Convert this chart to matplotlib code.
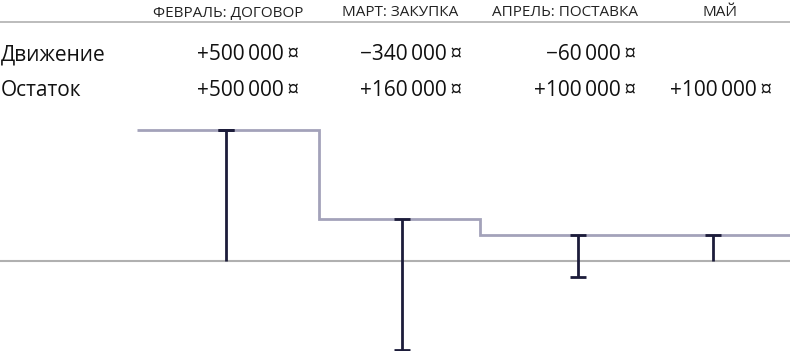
import matplotlib.pyplot as plt

# data
months = ["ФЕВРАЛЬ: ДОГОВОР", "МАРТ: ЗАКУПКА", "АПРЕЛЬ: ПОСТАВКА", "МАЙ"]
movement = [500000, -340000, -60000, None]
balance = [500000, 160000, 100000, 100000]
row_labels = ["Движение", "Остаток"]

# layout (pixel positions on a 790 px wide canvas)
mark_x = [226, 402, 578, 713]
step_edges = [137, 319, 480, 646, 790]
header_x = [228, 400, 565, 720]
value_right = [299, 462, 636, 772]

FONT = ["Open Sans", "DejaVu Sans"]
STEP_COLOR = "#a3a2ba"
MARK_COLOR = "#1c1c3a"
GRID_COLOR = "#b0b0b0"


def fmt(v):
    sign = "+" if v >= 0 else "\u2212"
    s = f"{abs(v):,}".replace(",", "\u2009")
    return f"{sign}{s}\u2009¤"


fig = plt.figure(figsize=(7.9, 3.51), dpi=100)
ax = fig.add_axes([0, 0, 1, 1])
ax.set_xlim(0, 790)
ax.set_ylim(-345000, 1000000)
ax.axis("off")

# pixel-space overlay for the table on top
top = fig.add_axes([0, 0, 1, 1], facecolor="none")
top.set_xlim(0, 790)
top.set_ylim(351, 0)
top.axis("off")

for name, hx in zip(months, header_x):
    top.text(hx, 13, name, ha="center", va="center", fontsize=11,
             color="#222222", family=FONT)
top.plot([0, 790], [22, 22], color=GRID_COLOR, lw=1.2)

row_y = [55, 91]
top.text(1, row_y[0], row_labels[0], ha="left", va="center", fontsize=15,
         color="#111111", family=FONT)
top.text(1, row_y[1], row_labels[1], ha="left", va="center", fontsize=15,
         color="#111111", family=FONT)
for rx, mv, bl in zip(value_right, movement, balance):
    if mv is not None:
        top.text(rx, row_y[0], fmt(mv), ha="right", va="center", fontsize=15,
                 color="#111111", family=FONT)
    top.text(rx, row_y[1], fmt(bl), ha="right", va="center", fontsize=15,
             color="#111111", family=FONT)

# zero line
ax.axhline(0, color=GRID_COLOR, lw=1.5, zorder=1)

# balance steps
ax.stairs(balance, step_edges, baseline=None, color=STEP_COLOR, lw=2, zorder=2)

# movement marks
for x, mv, bl in zip(mark_x, movement, balance):
    vals = [0, bl] + ([mv] if mv is not None else [])
    ax.vlines(x, min(vals), max(vals), color=MARK_COLOR, lw=2, zorder=3)
    caps = [bl] + ([mv] if mv is not None else [])
    ax.plot([x] * len(caps), caps, ls="none", marker="_", ms=11, mew=2,
            color=MARK_COLOR, zorder=3, clip_on=False)

fig.savefig("out.png", dpi=100)
